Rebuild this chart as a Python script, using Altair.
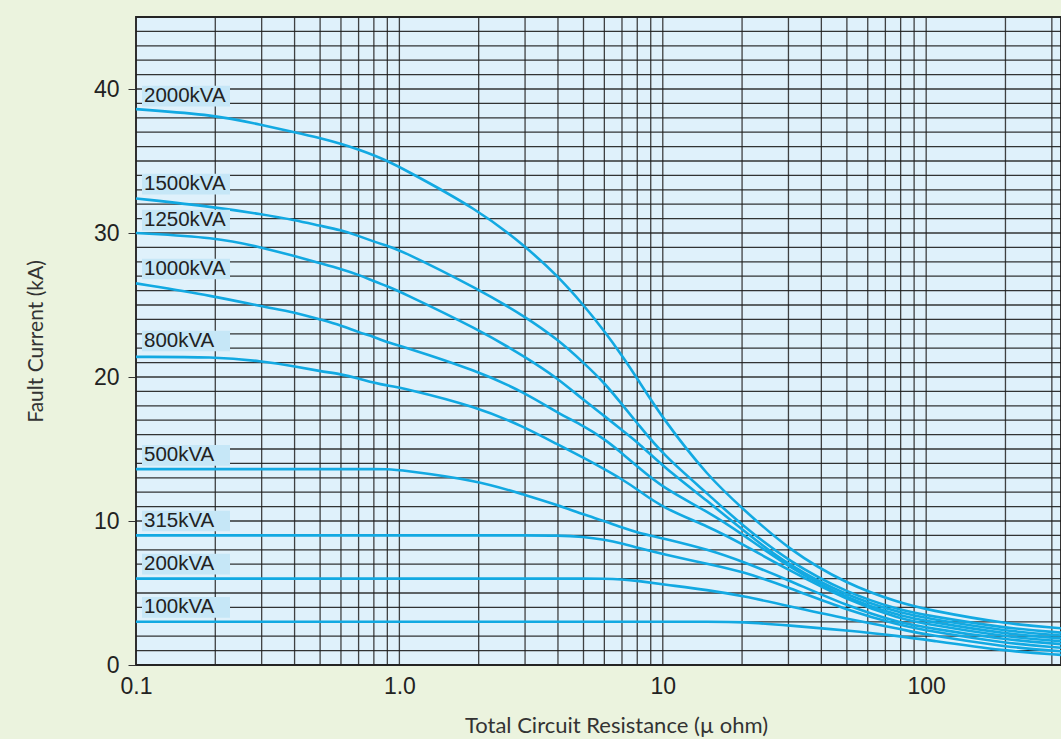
import altair as alt
import pandas as pd

# ---- data ----
resistance = [0.1, 0.2, 0.3, 0.4, 0.5, 0.6, 0.7, 0.8, 0.9, 1, 2, 3, 4, 5, 6, 7, 8,
              10, 15, 20, 30, 50, 80, 100, 200, 325]

kva_names = ["2000kVA", "1500kVA", "1250kVA", "1000kVA", "800kVA",
             "500kVA", "315kVA", "200kVA", "100kVA"]

fault_2000 = [38.6, 38.2, 37.5, 37.0, 36.6, 36.2, 35.8, 35.4, 35.0, 34.6, 31.6, 29.1, 27.0,
              25.0, 23.2, 21.5, 19.9, 17.1, 13.0, 10.9, 8.0, 5.6, 4.3, 3.85, 2.85, 2.55]
fault_1500 = [32.4, 31.8, 31.3, 30.9, 30.5, 30.2, 29.8, 29.4, 29.1, 28.85, 26.1, 24.2, 22.6,
              21.0, 19.6, 18.1, 16.8, 14.6, 11.8, 9.7, 7.2, 5.0, 3.8, 3.45, 2.55, 2.25]
fault_1250 = [30.0, 29.7, 29.0, 28.4, 27.9, 27.5, 27.1, 26.65, 26.3, 25.95, 23.3, 21.4, 19.9,
              18.4, 17.3, 16.3, 15.5, 13.8, 11.3, 9.4, 6.9, 4.8, 3.6, 3.25, 2.35, 2.05]
fault_1000 = [26.5, 25.6, 24.9, 24.5, 24.0, 23.6, 23.1, 22.8, 22.4, 22.2, 20.4, 18.9, 17.5,
              16.6, 15.7, 14.7, 13.8, 12.3, 10.6, 9.1, 6.8, 4.6, 3.4, 3.05, 2.15, 1.85]
fault_800 = [21.4, 21.4, 21.1, 20.75, 20.4, 20.2, 19.9, 19.6, 19.4, 19.3, 17.9, 16.5, 15.3,
             14.4, 13.6, 12.9, 12.2, 10.9, 9.6, 8.4, 6.6, 4.5, 3.2, 2.85, 1.95, 1.65]
fault_500 = [13.6, 13.6, 13.6, 13.6, 13.6, 13.6, 13.6, 13.6, 13.6, 13.55, 12.8, 11.8, 11.1,
             10.45, 10.0, 9.55, 9.2, 8.8, 8.0, 7.2, 5.9, 4.1, 2.9, 2.6, 1.75, 1.45]
fault_315 = [9.0, 9.0, 9.0, 9.0, 9.0, 9.0, 9.0, 9.0, 9.0, 9.0, 9.0, 9.0, 9.0,
             8.9, 8.7, 8.45, 8.15, 7.7, 7.0, 6.5, 5.4, 3.8, 2.75, 2.4, 1.5, 1.2]
fault_200 = [6.0, 6.0, 6.0, 6.0, 6.0, 6.0, 6.0, 6.0, 6.0, 6.0, 6.0, 6.0, 6.0,
             6.0, 6.0, 5.95, 5.85, 5.6, 5.2, 4.8, 4.1, 3.2, 2.5, 2.1, 1.25, 0.95]
fault_100 = [3.0, 3.0, 3.0, 3.0, 3.0, 3.0, 3.0, 3.0, 3.0, 3.0, 3.0, 3.0, 3.0,
             3.0, 3.0, 3.0, 3.0, 3.0, 3.0, 3.0, 2.75, 2.4, 2.0, 1.75, 0.96, 0.7]

label_y = [39.5, 33.4, 30.9, 27.5, 22.5, 14.55, 10.0, 7.0, 4.0]

grid_x = [0.1, 0.2, 0.3, 0.4, 0.5, 0.6, 0.7, 0.8, 0.9,
          1, 2, 3, 4, 5, 6, 7, 8, 9,
          10, 20, 30, 40, 50, 60, 70, 80, 90,
          100, 200, 300]
grid_y = list(range(0, 46))

x_ticks = [0.1, 1, 10, 100]
y_ticks = [0, 10, 20, 30, 40]

# ---- tables ----
series = [fault_2000, fault_1500, fault_1250, fault_1000, fault_800,
          fault_500, fault_315, fault_200, fault_100]
rows = []
for name, vals in zip(kva_names, series):
    for r, v in zip(resistance, vals):
        rows.append({"series": name, "r": r, "i": v})
df = pd.DataFrame(rows)
df_lab = pd.DataFrame({"label": kva_names, "ly": label_y})
df_gx = pd.DataFrame({"gx": grid_x})
df_gy = pd.DataFrame({"gy": grid_y})

xs = alt.Scale(type="log", domain=[0.1, 325], nice=False)
ys = alt.Scale(domain=[0, 45], nice=False)

title_font = "Lato"
tick_font = "Liberation Sans"

xax = alt.Axis(values=x_ticks, format="~g",
               labelExpr="datum.value == 1 ? '1.0' : datum.label",
               ticks=False, grid=False, domain=False,
               labelFont=tick_font, labelFontSize=23, labelColor="#222",
               labelPadding=10, labelFlush=False, labelOverlap=False,
               title="Total Circuit Resistance (µ ohm)",
               titleFont=title_font, titleFontWeight="normal", titleFontSize=22,
               titleColor="#333", titleX=480, titleY=50, titleBaseline="top")
yax = alt.Axis(values=y_ticks, ticks=True, tickSize=8, tickColor="#333", tickWidth=1,
               grid=False, domain=False,
               labelFont=tick_font, labelFontSize=23, labelColor="#222",
               labelPadding=9,
               title="Fault Current (kA)",
               titleFont=title_font, titleFontWeight="normal", titleFontSize=21,
               titleColor="#333", titleX=-100, titleY=324, titleBaseline="middle",
               titleAngle=270)

vgrid = alt.Chart(df_gx).mark_rule(color="#2e2e2e", strokeWidth=1.3, opacity=0.9).encode(
    x=alt.X("gx:Q", scale=xs, axis=xax))
hgrid = alt.Chart(df_gy).mark_rule(color="#1e1e1e", strokeWidth=1.3, opacity=0.9).encode(
    y=alt.Y("gy:Q", scale=ys, axis=yax))

lines = alt.Chart(df).mark_line(interpolate="basis", strokeWidth=2.6,
                                color="#12a9e2").encode(
    x=alt.X("r:Q", scale=xs, axis=xax),
    y=alt.Y("i:Q", scale=ys, axis=yax),
    detail="series:N")

boxes = alt.Chart(df_lab).transform_calculate(
    y0="datum.ly - 0.72", y1="datum.ly + 0.72"
).mark_rect(color="#c6e7f7").encode(
    x=alt.value(6), x2=alt.value(94),
    y=alt.Y("y0:Q", scale=ys, axis=yax), y2="y1:Q")

texts = alt.Chart(df_lab).mark_text(align="left", baseline="middle", font=tick_font,
                                    fontSize=20.5, color="#222").encode(
    x=alt.value(8),
    y=alt.Y("ly:Q", scale=ys, axis=yax),
    text="label:N")

chart = alt.layer(vgrid, hgrid, lines, boxes, texts).properties(
    width=925, height=648,
    background="#ebf3de",
    padding={"left": 136, "top": 17, "right": 0, "bottom": 74},
    autosize=alt.AutoSizeParams(type="none"),
).configure_view(fill="#dff1fb", stroke="#333333", strokeWidth=2)

chart.save("out.html", embed_options={"renderer": "svg", "actions": False})
